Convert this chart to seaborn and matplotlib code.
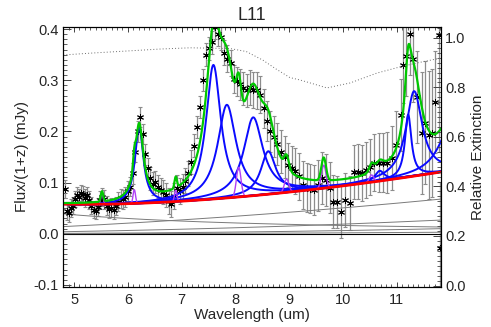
import numpy as np
import matplotlib
matplotlib.use("Agg")
import matplotlib.pyplot as plt
from matplotlib.ticker import MultipleLocator, FormatStrFormatter
import seaborn as sns

# observed spectrum: rest wavelength (um), flux/(1+z) (mJy), 1-sigma error
wave = [4.83, 4.866, 4.903, 4.94, 4.977, 5.014, 5.051, 5.089, 5.127, 5.166,
        5.204, 5.243, 5.283, 5.322, 5.362, 5.402, 5.443, 5.484, 5.525, 5.566,
        5.608, 5.65, 5.692, 5.735, 5.778, 5.821, 5.865, 5.909, 5.953, 5.998,
        6.043, 6.088, 6.134, 6.18, 6.226, 6.273, 6.32, 6.367, 6.415, 6.463,
        6.512, 6.561, 6.61, 6.66, 6.71, 6.76, 6.811, 6.862, 6.913, 6.965,
        7.017, 7.07, 7.123, 7.176, 7.23, 7.284, 7.339, 7.394, 7.45, 7.505,
        7.562, 7.619, 7.676, 7.733, 7.791, 7.85, 7.909, 7.968, 8.028, 8.088,
        8.149, 8.21, 8.271, 8.333, 8.396, 8.459, 8.522, 8.586, 8.651, 8.715,
        8.781, 8.847, 8.913, 8.98, 9.047, 9.115, 9.183, 9.252, 9.322, 9.392,
        9.462, 9.533, 9.604, 9.676, 9.749, 9.822, 9.896, 9.97, 10.045, 10.12,
        10.196, 10.273, 10.35, 10.427, 10.505, 10.584, 10.664, 10.744, 10.824, 10.905,
        10.987, 11.069, 11.12, 11.17, 11.236, 11.30, 11.38, 11.47, 11.52, 11.60,
        11.66, 11.71, 11.79, 11.80]
flux = [0.088, 0.045, 0.040, 0.050, 0.055, 0.068, 0.076, 0.072, 0.080, 0.077,
        0.070, 0.075, 0.066, 0.055, 0.047, 0.045, 0.052, 0.066, 0.072, 0.067,
        0.055, 0.048, 0.051, 0.046, 0.054, 0.063, 0.069, 0.067, 0.072, 0.084,
        0.092, 0.118, 0.160, 0.200, 0.228, 0.195, 0.155, 0.128, 0.108, 0.098,
        0.101, 0.092, 0.086, 0.082, 0.076, 0.064, 0.058, 0.074, 0.090, 0.083,
        0.092, 0.104, 0.118, 0.140, 0.172, 0.209, 0.248, 0.300, 0.350, 0.362,
        0.374, 0.404, 0.390, 0.384, 0.354, 0.342, 0.334, 0.303, 0.298, 0.292,
        0.284, 0.280, 0.286, 0.281, 0.280, 0.272, 0.245, 0.220, 0.200, 0.190,
        0.176, 0.160, 0.150, 0.135, 0.128, 0.122, 0.112, 0.095, 0.090, 0.088,
        0.086, 0.095, 0.109, 0.105, 0.090, 0.063, 0.062, 0.043, 0.066, 0.060,
        0.121, 0.121, 0.119, 0.125, 0.130, 0.139, 0.139, 0.139, 0.139, 0.148,
        0.174, 0.232, 0.330, 0.348, 0.390, 0.342, 0.268, 0.197, 0.217, 0.193,
        0.197, 0.258, 0.389, -0.028]
err = [0.018, 0.018, 0.017, 0.017, 0.016, 0.016, 0.016, 0.016, 0.016, 0.016,
       0.017, 0.017, 0.017, 0.017, 0.017, 0.017, 0.018, 0.018, 0.018, 0.018,
       0.018, 0.018, 0.018, 0.018, 0.018, 0.018, 0.018, 0.018, 0.019, 0.019,
       0.019, 0.020, 0.020, 0.020, 0.020, 0.020, 0.020, 0.020, 0.022, 0.022,
       0.022, 0.023, 0.023, 0.024, 0.024, 0.025, 0.025, 0.025, 0.025, 0.025,
       0.025, 0.024, 0.024, 0.023, 0.022, 0.022, 0.022, 0.022, 0.022, 0.022,
       0.022, 0.024, 0.024, 0.025, 0.025, 0.026, 0.026, 0.027, 0.028, 0.030,
       0.032, 0.033, 0.034, 0.035, 0.036, 0.037, 0.038, 0.039, 0.040, 0.040,
       0.041, 0.042, 0.042, 0.043, 0.044, 0.045, 0.046, 0.047, 0.048, 0.048,
       0.049, 0.050, 0.050, 0.050, 0.050, 0.051, 0.051, 0.052, 0.052, 0.053,
       0.053, 0.054, 0.054, 0.055, 0.055, 0.056, 0.057, 0.058, 0.060, 0.062,
       0.065, 0.070, 0.075, 0.078, 0.080, 0.085, 0.090, 0.120, 0.120, 0.125,
       0.125, 0.100, 0.230, 0.130]

# PAH features (Drude profiles): centre (um), fractional FWHM, peak (mJy)
pah_center = [6.21, 7.59, 7.84, 8.33, 8.61, 10.68, 11.21, 11.32, 11.99]
pah_gamma = [0.030, 0.044, 0.053, 0.052, 0.039, 0.020, 0.013, 0.032, 0.045]
pah_peak = [0.150, 0.262, 0.182, 0.153, 0.084, 0.020, 0.122, 0.166, 0.084]

# unresolved emission lines (gaussians): centre, FWHM (um), peak (mJy)
line_center = [5.52, 6.12, 6.89, 8.06, 8.95, 9.64, 10.53]
line_fwhm = [0.053, 0.053, 0.053, 0.10, 0.10, 0.10, 0.10]
line_peak = [0.020, 0.027, 0.022, 0.058, 0.026, 0.045, 0.014]

# continuum components: value at 4.8 um and power-law slope
cont_amp = [0.039, 0.014, 0.004, 0.0008, 0.0002]
cont_slope = [-1.2, 1.75, 2.11, 2.8, 3.0]

# relative extinction curve (right axis)
ext_wave = [4.80, 5.35, 5.98, 6.60, 7.16, 7.90, 8.20, 8.51, 8.75, 9.01,
            9.20, 9.39, 9.70, 10.13, 10.63, 11.06, 11.40, 11.85]
ext_val = [0.931, 0.939, 0.947, 0.955, 0.960, 0.957, 0.945, 0.910, 0.875, 0.840,
           0.830, 0.818, 0.798, 0.818, 0.858, 0.883, 0.900, 0.920]

sns.set_theme(style="ticks")
plt.rcParams["font.family"] = ["Liberation Sans", "DejaVu Sans"]
plt.rcParams["axes.linewidth"] = 0.8

lam = np.linspace(4.78, 11.86, 900)


def drude(x, c, g, b):
    return b * g ** 2 / ((x / c - c / x) ** 2 + g ** 2)


def gauss(x, c, w, b):
    s = w / 2.3548
    return b * np.exp(-0.5 * ((x - c) / s) ** 2)


cont_parts = [a * (lam / 4.8) ** p for a, p in zip(cont_amp, cont_slope)]
cont = np.sum(cont_parts, axis=0)
pahs = [drude(lam, c, g, b) for c, g, b in zip(pah_center, pah_gamma, pah_peak)]
lines = [gauss(lam, c, w, b) for c, w, b in zip(line_center, line_fwhm, line_peak)]
total = cont + np.sum(pahs, axis=0) + np.sum(lines, axis=0)

fig, ax = plt.subplots(figsize=(4.91, 3.27), dpi=100)
fig.subplots_adjust(left=63 / 491, right=441 / 491, bottom=1 - 287 / 327, top=1 - 27 / 327)

# data
_, caps, _ = ax.errorbar(wave, flux, yerr=err, fmt="none", ecolor="#8c8c8c",
                         elinewidth=0.9, capsize=1.7, capthick=0.8, zorder=2)
for cap in caps:
    cap.set_color("#3a3a3a")
sns.scatterplot(x=wave, y=flux, marker=(6, 2, 0), s=20, color="black",
                linewidth=0.7, ax=ax, zorder=3, legend=False)

ax.axhline(0, color="black", lw=0.8, zorder=2)
for part in cont_parts:
    sns.lineplot(x=lam, y=part, color="#7a7a7a", lw=0.7, ax=ax,
                 estimator=None, sort=False, zorder=2)

for p in pahs:
    sns.lineplot(x=lam, y=cont + p, color="#0a0aff", lw=1.4, ax=ax,
                 estimator=None, sort=False, zorder=5)

for c, w, ln in zip(line_center, line_fwhm, lines):
    m = np.abs(lam - c) < 1.4 * w
    sns.lineplot(x=lam[m], y=(cont + ln)[m], color="#b040f5", lw=1.0, ax=ax,
                 estimator=None, sort=False, zorder=5.5)

sns.lineplot(x=lam, y=cont, color="#ff0000", lw=2.0, ax=ax,
             estimator=None, sort=False, zorder=6)
sns.lineplot(x=lam, y=total, color="#00c800", lw=1.6, ax=ax,
             estimator=None, sort=False, zorder=7)

ax.set_xlim(4.795, 11.82)
ax.set_ylim(-0.104, 0.404)
ax.xaxis.set_major_locator(MultipleLocator(1))
ax.xaxis.set_minor_locator(MultipleLocator(0.1))
ax.yaxis.set_major_locator(MultipleLocator(0.1))
ax.yaxis.set_minor_locator(MultipleLocator(0.01))
ax.yaxis.set_major_formatter(FormatStrFormatter("%.1f"))
ax.tick_params(axis="x", which="major", direction="in", top=True, length=3.7,
               width=0.7, labelsize=10.5, pad=4, color="#444444")
ax.tick_params(axis="x", which="minor", direction="in", top=True, length=1.9,
               width=0.6, color="#444444")
ax.tick_params(axis="y", which="major", direction="in", right=False, length=5.5,
               width=0.7, labelsize=10.5, pad=3, color="#444444")
ax.tick_params(axis="y", which="minor", direction="in", right=False, length=2.7,
               width=0.6, color="#444444")
ax.set_xlabel("Wavelength (um)", fontsize=11, labelpad=1)
ax.set_ylabel("Flux/(1+z) (mJy)", fontsize=11, labelpad=3)
ax.set_title("L11", fontsize=13, pad=5)

ax2 = ax.twinx()
sns.lineplot(x=ext_wave, y=ext_val, color="#6e6e6e", lw=0.7, ax=ax2,
             estimator=None, sort=False, linestyle=(0, (1, 2.2)))
ax2.set_ylim(-0.006, 1.044)
ax2.yaxis.set_major_locator(MultipleLocator(0.2))
ax2.yaxis.set_minor_locator(MultipleLocator(0.02))
ax2.yaxis.set_major_formatter(FormatStrFormatter("%.1f"))
ax2.tick_params(axis="y", which="major", direction="in", length=5.5, width=0.7,
                labelsize=10.5, pad=3, color="#444444")
ax2.tick_params(axis="y", which="minor", direction="in", length=2.7, width=0.6,
                color="#444444")
ax2.set_ylabel("Relative Extinction", fontsize=11, labelpad=4)
ax2.set_xlim(4.795, 11.82)

for a in (ax, ax2):
    for s in a.spines.values():
        s.set_color("black")
        s.set_linewidth(0.8)

fig.savefig("out.png", dpi=100)
